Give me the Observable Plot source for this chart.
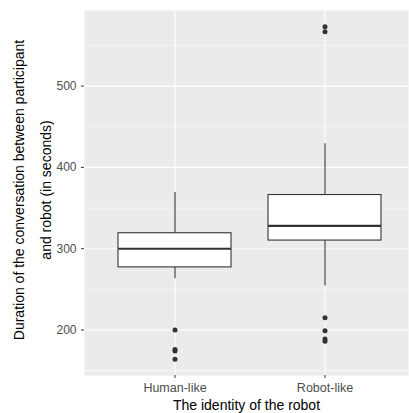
<!DOCTYPE html>
<html>
<head>
<meta charset="utf-8">
<script src="https://cdn.jsdelivr.net/npm/d3@7"></script>
<script src="https://cdn.jsdelivr.net/npm/@observablehq/plot@0.6"></script>
<style>
  html, body { margin: 0; padding: 0; background: white; }
</style>
</head>
<body>
<div id="chart"></div>
<script>
// Categories
const groups = ["Human-like", "Robot-like"];
// Box summaries (seconds)
const whiskerLow  = [263, 254];
const q1          = [277, 310];
const median      = [300, 328];
const q3          = [319, 366];
const whiskerHigh = [369, 429];
// Outliers
const outlierGroup = ["Human-like", "Human-like", "Human-like", "Human-like",
                      "Robot-like", "Robot-like", "Robot-like", "Robot-like", "Robot-like", "Robot-like"];
const outlierValue = [200, 176, 174, 164,
                      215, 199, 189, 186, 567, 573];
// Axis ticks
const yMajorTicks = [200, 300, 400, 500];
const yMinorTicks = [150, 250, 350, 450, 550];
const yTitle = "Duration of the conversation between participant\nand robot (in seconds)";
const xTitle = "The identity of the robot";

const stats = groups.map((g, i) => ({
  group: g, lo: whiskerLow[i], q1: q1[i], median: median[i], q3: q3[i], hi: whiskerHigh[i]
}));
const outliers = outlierGroup.map((g, i) => ({group: g, value: outlierValue[i]}));

const chart = Plot.plot({
  width: 409,
  height: 413,
  marginLeft: 84,
  marginRight: 1,
  marginTop: 10,
  marginBottom: 38,
  style: {fontFamily: "'Liberation Sans', Arial, sans-serif", background: "white"},
  x: {domain: groups, type: "band", paddingInner: 0.25, paddingOuter: 0.2, align: 0.55},
  y: {domain: [144, 593]},
  marks: [
    Plot.frame({fill: "#EBEBEB", stroke: null}),
    Plot.ruleY(yMinorTicks, {stroke: "white", strokeWidth: 0.55}),
    Plot.ruleY(yMajorTicks, {stroke: "white", strokeWidth: 1.1}),
    Plot.ruleX(groups, {x: d => d, stroke: "white", strokeWidth: 1.1}),
    Plot.ruleX(stats, {x: "group", y1: "lo", y2: "q1", stroke: "#333333", strokeWidth: 1.1}),
    Plot.ruleX(stats, {x: "group", y1: "q3", y2: "hi", stroke: "#333333", strokeWidth: 1.1}),
    Plot.barY(stats, {x: "group", y1: "q1", y2: "q3", fill: "white", stroke: "#333333", strokeWidth: 1.1}),
    Plot.tickY(stats, {x: "group", y: "median", stroke: "#333333", strokeWidth: 2.1}),
    Plot.dot(outliers, {x: "group", y: "value", r: 2.5, fill: "#333333", stroke: null}),
    Plot.axisY(yMajorTicks, {tickSize: 3, tickPadding: 5, stroke: "#333333", fill: "#4D4D4D", fontSize: 12, label: null}),
    Plot.axisX({tickSize: 3, tickPadding: 5, stroke: "#333333", fill: "#4D4D4D", fontSize: 12.5, label: null}),
    Plot.text([yTitle], {text: d => d, frameAnchor: "left", textAnchor: "middle", lineAnchor: "middle", rotate: -90, dx: -56, dy: -3, fontSize: 14, lineHeight: 1.95, fill: "black"}),
    Plot.text([xTitle], {text: d => d, frameAnchor: "bottom", textAnchor: "middle", lineAnchor: "middle", dy: 30, fontSize: 14, fill: "black"})
  ]
});
document.getElementById("chart").appendChild(chart);
</script>
</body>
</html>
